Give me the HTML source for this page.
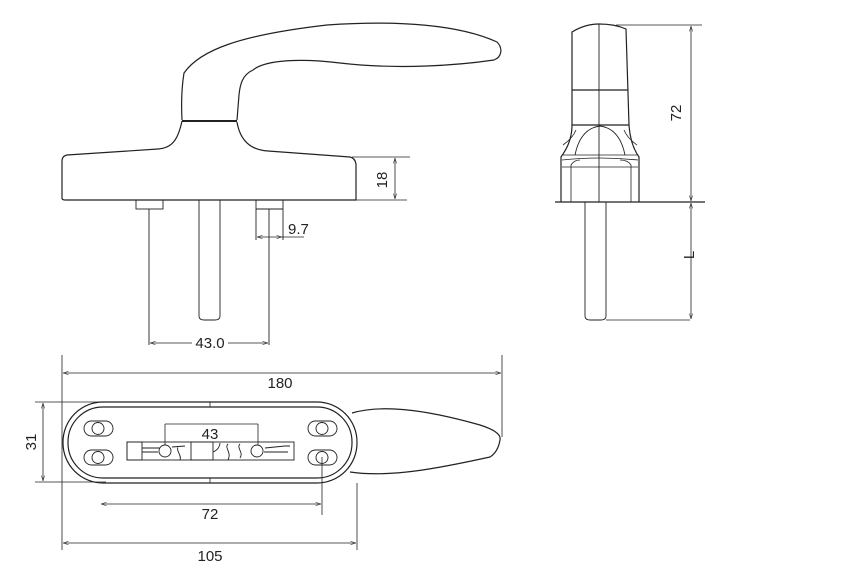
<!DOCTYPE html>
<html><head><meta charset="utf-8"><style>
html,body{margin:0;padding:0;background:#fff;}
svg{display:block;}
text{font-family:"Liberation Sans","DejaVu Sans",sans-serif;font-size:15px;fill:#222;}
</style></head><body>
<svg width="863" height="569" viewBox="0 0 863 569" xmlns="http://www.w3.org/2000/svg">
<defs>
<marker id="a" viewBox="0 0 10 10" refX="10" refY="5" markerWidth="7" markerHeight="7" orient="auto-start-reverse"><path d="M0,2 L10,5 L0,8" fill="none" stroke="#333" stroke-width="1"/></marker>
</defs>
<g fill="none" stroke="#222" stroke-width="1.2">
<path d="M182,120 C181,100 182,85 184,73 C200,50 240,35 327,25 C400,20 460,25 497,42 C503,48 502,57 494,60 C460,65 400,70 340,63 C300,58 265,60 253,70 C242,75 240,85 239,95 L237,120"/>
<line x1="182" y1="121" x2="237" y2="121" stroke-width="2"/>
<path d="M182,121 C178,140 172,148 158,149 L67,155 C63,156 62,158 62,162 L62,198 Q62,200 65,200 L356,200 L356,164 Q355,158 350,157 L268,151 C250,150 240,140 237,122"/>
<line x1="352" y1="157" x2="410" y2="157" stroke-width="0.8"/>
<line x1="356" y1="200" x2="407" y2="200" stroke-width="0.8"/>
<line x1="395" y1="158" x2="395" y2="199" stroke-width="0.8" marker-start="url(#a)" marker-end="url(#a)"/>
<rect x="136" y="200" width="27" height="9" stroke-width="0.9"/>
<line x1="149" y1="209" x2="149" y2="345" stroke-width="0.9"/>
<path d="M199,200 L199,316 Q199,320 204,320 L215,320 Q220,320 220,316 L220,200" stroke-width="0.9"/>
<line x1="256" y1="200" x2="256" y2="240" stroke-width="0.9"/>
<line x1="283" y1="200" x2="283" y2="240" stroke-width="0.9"/>
<line x1="256" y1="209" x2="283" y2="209" stroke-width="0.9"/>
<line x1="269" y1="209" x2="269" y2="345" stroke-width="0.9"/>
<line x1="257" y1="237" x2="282" y2="237" stroke-width="0.8" marker-start="url(#a)" marker-end="url(#a)"/>
<line x1="282" y1="237" x2="304" y2="237" stroke-width="0.8"/>
<line x1="150" y1="343" x2="268" y2="343" stroke-width="0.8" marker-start="url(#a)" marker-end="url(#a)"/>
<path d="M572,125 L572,32 Q585,24 599,24 Q615,24 626,29 L629,125 Z"/>
<line x1="572" y1="90" x2="628" y2="90"/>
<line x1="599" y1="24" x2="599" y2="202" stroke-width="0.9"/>
<path d="M572,125 C572,140 566,150 561,157 L561,202"/>
<path d="M629,125 C630,140 634,150 639,157 L639,202"/>
<path d="M575,155 C578,140 585,128 600,126 C615,128 622,140 625,155" stroke-width="0.9"/>
<path d="M563,145 C570,140 574,135 576,130" stroke-width="0.8"/>
<path d="M637,145 C630,140 626,135 624,130" stroke-width="0.8"/>
<path d="M563,155 L637,155 M562,160 Q600,156 638,160 M562,167 L638,167 M571,202 L571,165 Q574,160 580,160 M631,202 L631,165 Q628,160 620,160" stroke-width="0.8"/>
<line x1="555" y1="202" x2="705" y2="202"/>
<path d="M585,202 L585,316 Q585,320 590,320 L601,320 Q606,320 606,316 L606,202" stroke-width="0.9"/>
<line x1="606" y1="320" x2="690" y2="320" stroke-width="0.8"/>
<line x1="616" y1="25" x2="702" y2="25" stroke-width="0.8"/>
<line x1="691" y1="26" x2="691" y2="201" stroke-width="0.8" marker-start="url(#a)" marker-end="url(#a)"/>
<line x1="691" y1="203" x2="691" y2="319" stroke-width="0.8" marker-start="url(#a)" marker-end="url(#a)"/>
<line x1="62" y1="355" x2="62" y2="550" stroke-width="0.8"/>
<line x1="502" y1="355" x2="502" y2="437" stroke-width="0.8"/>
<line x1="63" y1="373" x2="501" y2="373" stroke-width="0.8" marker-start="url(#a)" marker-end="url(#a)"/>
<rect x="63" y="402" width="294" height="81" rx="40" ry="40"/>
<rect x="68" y="407" width="284" height="71" rx="35" ry="35"/>
<line x1="210" y1="402" x2="210" y2="407" stroke-width="0.8"/>
<line x1="210" y1="478" x2="210" y2="483" stroke-width="0.8"/>
<path d="M352,413 C380,405 420,408 480,425 Q502,432 500,440 Q498,452 490,457 C440,468 390,478 350,472"/>
<g stroke-width="0.9">
<rect x="84" y="421" width="29" height="15" rx="7.5"/><circle cx="98" cy="428.5" r="6"/>
<rect x="84" y="450" width="29" height="15" rx="7.5"/><circle cx="98" cy="457.5" r="6"/>
<rect x="308" y="421" width="29" height="15" rx="7.5"/><circle cx="322" cy="428.5" r="6"/>
<rect x="308" y="450" width="29" height="15" rx="7.5"/><circle cx="322" cy="457.5" r="6"/>
<rect x="127" y="442" width="167" height="18"/>
<rect x="127" y="442" width="15" height="18"/>
<rect x="191" y="442" width="22" height="18"/>
<circle cx="165" cy="451" r="6"/><circle cx="257" cy="451" r="6"/>
<path d="M142,448 L160,448 M142,452 L158,452 M172,447 L185,446 M178,446 C176,452 182,455 180,460 M213,452 C218,450 220,446 220,443 M228,444 C224,448 232,452 228,460 M240,444 C236,448 244,452 240,458 M265,448 L285,446 L290,446 M264,452 L288,452"/>
</g>
<g stroke-width="0.8">
<line x1="165" y1="424" x2="165" y2="445"/><line x1="258" y1="424" x2="258" y2="445"/>
<line x1="165" y1="424" x2="258" y2="424"/>
<line x1="35" y1="402" x2="106" y2="402"/><line x1="35" y1="482" x2="106" y2="482"/>
<line x1="43" y1="403" x2="43" y2="481" marker-start="url(#a)" marker-end="url(#a)"/>
<line x1="322" y1="457" x2="322" y2="515"/>
<line x1="101" y1="504" x2="321" y2="504" marker-start="url(#a)" marker-end="url(#a)"/>
<line x1="357" y1="483" x2="357" y2="550"/>
<line x1="63" y1="543" x2="356" y2="543" marker-start="url(#a)" marker-end="url(#a)"/>
</g>
</g>
<text x="383" y="180" text-anchor="middle" transform="rotate(-90 383 180)" dominant-baseline="middle">18</text>
<text x="288" y="234">9.7</text>
<rect x="192" y="335" width="36" height="14" fill="#fff"/>
<text x="210" y="348" text-anchor="middle">43.0</text>
<text x="677" y="113" text-anchor="middle" transform="rotate(-90 677 113)" dominant-baseline="middle">72</text>
<text x="690" y="255" text-anchor="middle" transform="rotate(-90 690 255)" dominant-baseline="middle">L</text>
<text x="280" y="388" text-anchor="middle">180</text>
<text x="210" y="439" text-anchor="middle">43</text>
<text x="32" y="442" text-anchor="middle" transform="rotate(-90 32 442)" dominant-baseline="middle">31</text>
<text x="210" y="519" text-anchor="middle">72</text>
<text x="210" y="561" text-anchor="middle">105</text>
</svg>
</body></html>
